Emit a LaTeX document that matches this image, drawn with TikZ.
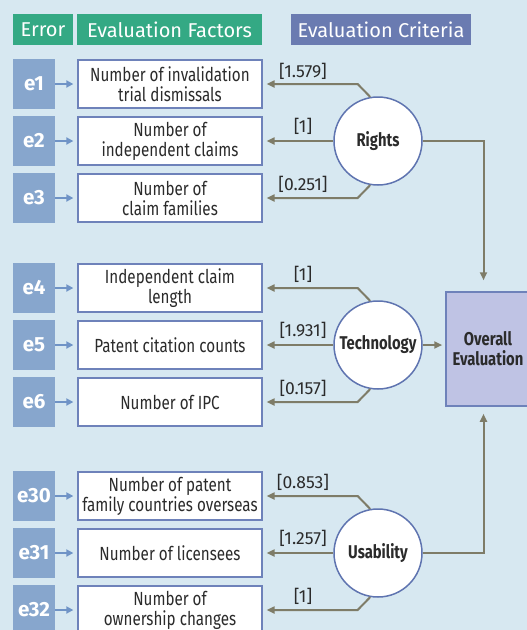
\documentclass[tikz,border=0pt]{standalone}
\usepackage{fontspec}
\setmainfont{Fira Sans}[FakeStretch=0.8]
\newfontfamily\widefont{Fira Sans}
\usetikzlibrary{arrows.meta}
\definecolor{bgc}{HTML}{D7E8F1}
\definecolor{hgreen}{HTML}{34A984}
\definecolor{hpurple}{HTML}{6A7BB1}
\definecolor{ebox}{HTML}{87A6CD}
\definecolor{fborder}{HTML}{6E82BA}
\definecolor{cborder}{HTML}{5F74B0}
\definecolor{ofill}{HTML}{BFC3E4}
\definecolor{garr}{HTML}{7E7C68}
\definecolor{earr}{HTML}{6F93C6}
\definecolor{txt}{HTML}{2B2B2B}
\tikzset{
  hdr/.style={fill=#1, text=white, inner sep=0pt, minimum height=31pt, font=\widefont\fontsize{20}{21}\selectfont},
  ebx/.style={fill=ebox, text=white, inner sep=0pt, minimum width=42pt, minimum height=50pt, font=\widefont\fontsize{20.5}{21}\selectfont\bfseries},
  fbx/.style={draw=fborder, line width=1.3pt, fill=white, text=txt, inner sep=0pt, minimum width=184pt, minimum height=48pt, align=center, font=\fontsize{19}{20}\selectfont},
  lat/.style={circle, draw=cborder, line width=1.5pt, fill=white, text=txt, inner sep=0pt, minimum size=88pt, font=\fontsize{18.5}{20}\selectfont\bfseries},
  ovb/.style={draw=fborder, line width=1.5pt, fill=ofill, text=txt, inner sep=0pt, minimum width=84pt, minimum height=114pt, align=center, font=\fontsize{18.5}{20}\selectfont\bfseries},
  garrow/.style={draw=garr, line width=2pt, -{Triangle[length=8pt,width=7pt]}},
  earrow/.style={draw=earr, line width=1.8pt, -{Triangle[length=7pt,width=7pt]}},
  wlab/.style={text=txt, inner sep=0pt, font=\widefont\fontsize{17.5}{19}\selectfont},
}
\begin{document}
\begin{tikzpicture}[x=1pt,y=-1pt]
\clip (0,0) rectangle (527,630);
\fill[bgc] (0,0) rectangle (527,630);
% headers
\node[hdr=hgreen, minimum width=60pt] (h1) at (43,29.5) {Error};
\node[hdr=hgreen, minimum width=185pt] (h2) at (169.5,29.5) {Evaluation Factors};
\node[hdr=hpurple, minimum width=180pt] (h3) at (381,29.5) {Evaluation Criteria};
% error boxes
\foreach \n/\y in {1/84,2/141,3/198,4/288,5/345,6/402,30/496,31/553,32/610}{
  \node[ebx] (e\n) at (34,\y) {e\n};
}
% factor boxes
\node[fbx] (f1) at (170,84) {Number of invalidation\\trial dismissals};
\node[fbx] (f2) at (170,141) {Number of\\independent claims};
\node[fbx] (f3) at (170,198) {Number of\\claim families};
\node[fbx] (f4) at (170,288) {Independent claim\\length};
\node[fbx] (f5) at (170,345) {Patent citation counts};
\node[fbx] (f6) at (170,402) {Number of IPC};
\node[fbx] (f30) at (170,496) {Number of patent\\family countries overseas};
\node[fbx] (f31) at (170,553) {Number of licensees};
\node[fbx] (f32) at (170,610) {Number of\\ownership changes};
% e arrows
\foreach \n in {1,2,3,4,5,6,30,31,32}{
  \draw[earrow, shorten >=4pt] (e\n.east) -- (f\n.west);
}
% latent
\node[lat] (R) at (378,141) {Rights};
\node[lat] (T) at (378,345) {Technology};
\node[lat] (U) at (378,553) {Usability};
\node[ovb] (O) at (488,349) {Overall\\Evaluation};
% loadings
\foreach \L/\a/\b/\c in {R/f1/f2/f3, T/f4/f5/f6, U/f30/f31/f32}{
  \draw[garrow, shorten >=4pt] (\L.100) -- ([xshift=95pt]\a.east) -- (\a.east);
  \draw[garrow, shorten >=4pt] (\L.west) -- (\b.east);
  \draw[garrow, shorten >=4pt] (\L.260) -- ([xshift=95pt]\c.east) -- (\c.east);
}
\node[wlab] (l1) at (303,71) {[1.579]};
\node[wlab] (l2) at (303,126) {[1]};
\node[wlab] (l3) at (303,184) {[0.251]};
\node[wlab] (l4) at (303,274) {[1]};
\node[wlab] (l5) at (303,330) {[1.931]};
\node[wlab] (l6) at (303,388) {[0.157]};
\node[wlab] (l7) at (303,482) {[0.853]};
\node[wlab] (l8) at (303,538) {[1.257]};
\node[wlab] (l9) at (303,596) {[1]};
% to overall
\draw[garrow, shorten >=11pt] (R.east) -| ([xshift=-4.5pt]O.north);
\draw[garrow, shorten >=3pt] (T.east) -- (O.west |- T.east);
\draw[garrow, shorten >=7pt] (U.east) -| ([xshift=-4.5pt]O.south);
\end{tikzpicture}
\end{document}
